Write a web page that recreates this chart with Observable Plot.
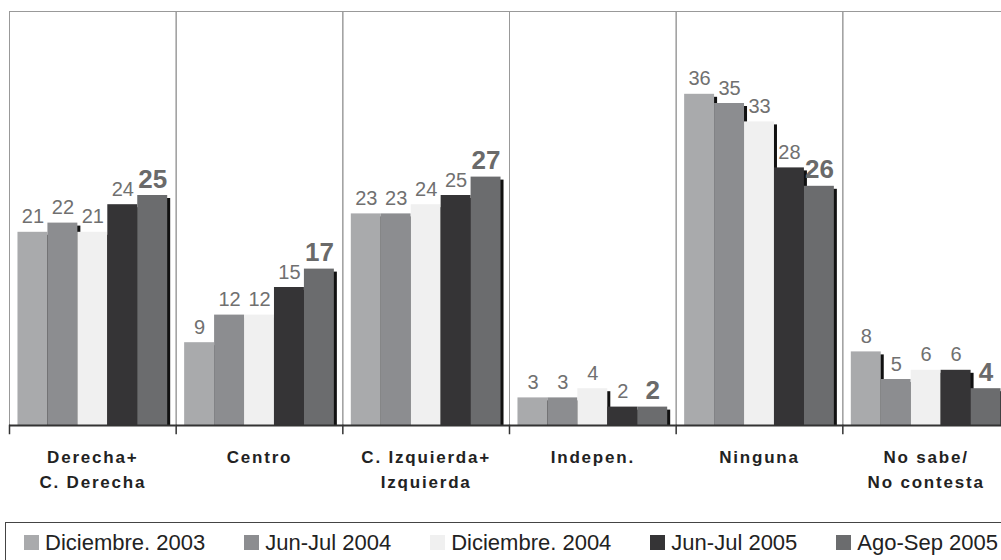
<!DOCTYPE html>
<html>
<head>
<meta charset="utf-8">
<script src="https://cdn.jsdelivr.net/npm/d3@7"></script>
<script src="https://cdn.jsdelivr.net/npm/@observablehq/plot@0.6"></script>
<style>
  html, body { margin: 0; padding: 0; background: #fff; overflow: hidden; }
  body { width: 1001px; height: 560px; font-family: "Liberation Sans", Arial, sans-serif; }
  #legend {
    margin: 12px 0 0 5px;
    width: 1020px;
    height: 40px;
    border-top: 1.5px solid #444;
    border-left: 1.5px solid #444;
    display: flex;
    align-items: center;
    padding-left: 18px;
    box-sizing: border-box;
    font-size: 22px;
    color: #222;
  }
  #legend .item { display: flex; align-items: center; margin-right: 39px; white-space: nowrap; }
  #legend .sw { width: 15px; height: 15px; margin-right: 6px; }
</style>
</head>
<body>
<div id="chart"></div>
<div id="legend"></div>
<script>
const categories = ["Derecha+\nC. Derecha", "Centro", "C. Izquierda+\nIzquierda", "Indepen.", "Ninguna", "No sabe/\nNo contesta"];
const series = ["Diciembre. 2003", "Jun-Jul 2004", "Diciembre. 2004", "Jun-Jul 2005", "Ago-Sep 2005"];
const colors = ["#a9aaac", "#8c8d90", "#f0f0f0", "#353436", "#6b6c6e"];

const dic2003 = [21, 9, 23, 3, 36, 8];
const junjul2004 = [22, 12, 23, 3, 35, 5];
const dic2004 = [21, 12, 24, 4, 33, 6];
const junjul2005 = [24, 15, 25, 2, 28, 6];
const agosep2005 = [25, 17, 27, 2, 26, 4];

const seriesValues = [dic2003, junjul2004, dic2004, junjul2005, agosep2005];
const data = [];
categories.forEach((c, i) => {
  series.forEach((s, j) => data.push({category: c, series: s, value: seriesValues[j][i]}));
});
const lastSeries = series[series.length - 1];

const plot = Plot.plot({
  width: 1001,
  height: 510,
  marginLeft: 9,
  marginRight: -8,
  marginTop: 11,
  marginBottom: 85,
  style: {fontFamily: "'Liberation Sans', Arial, sans-serif", background: "#fff"},
  fx: {domain: categories, padding: 0, axis: null, round: false},
  x: {domain: series, paddingInner: 0, paddingOuter: 0.283, axis: null, round: false},
  y: {domain: [0, 45], axis: null},
  color: {domain: series, range: colors},
  marks: [
    Plot.frame({stroke: "#999", strokeWidth: 1}),
    Plot.barY(data, {fx: "category", x: "series", y: "value", fill: "#111", dx: 3, insetTop: 3}),
    Plot.barY(data, {fx: "category", x: "series", y: "value", fill: "series"}),
    Plot.ruleY([0], {stroke: "#333", strokeWidth: 2}),
    Plot.frame({anchor: "left", stroke: "#333", strokeWidth: 1.5, insetTop: 414, insetBottom: -8}),
    Plot.text(data.filter(d => d.series !== lastSeries), {
      fx: "category", x: "series", y: "value", text: d => String(d.value),
      lineAnchor: "bottom", dy: -9, fill: "#707070", fontSize: 20
    }),
    Plot.text(data.filter(d => d.series === lastSeries), {
      fx: "category", x: "series", y: "value", text: d => String(d.value),
      lineAnchor: "bottom", dy: -8, fill: "#6a6a6a", fontSize: 26, fontWeight: "bold"
    }),
    Plot.text(categories, {
      fx: d => d, text: d => d, frameAnchor: "bottom", lineAnchor: "top",
      dy: 20, fontSize: 17, fontWeight: "bold", lineHeight: 1.47, fill: "#222"
    })
  ]
});
document.getElementById("chart").appendChild(plot);
const textGroups = plot.querySelectorAll('g[aria-label="text"]');
if (textGroups.length) {
  textGroups[textGroups.length - 1].style.letterSpacing = "1.8px";
}

const legend = document.getElementById("legend");
series.forEach((s, i) => {
  const item = document.createElement("div");
  item.className = "item";
  const sw = document.createElement("span");
  sw.className = "sw";
  sw.style.background = colors[i];
  const t = document.createElement("span");
  t.textContent = s;
  item.appendChild(sw);
  item.appendChild(t);
  legend.appendChild(item);
});
</script>
</body>
</html>
